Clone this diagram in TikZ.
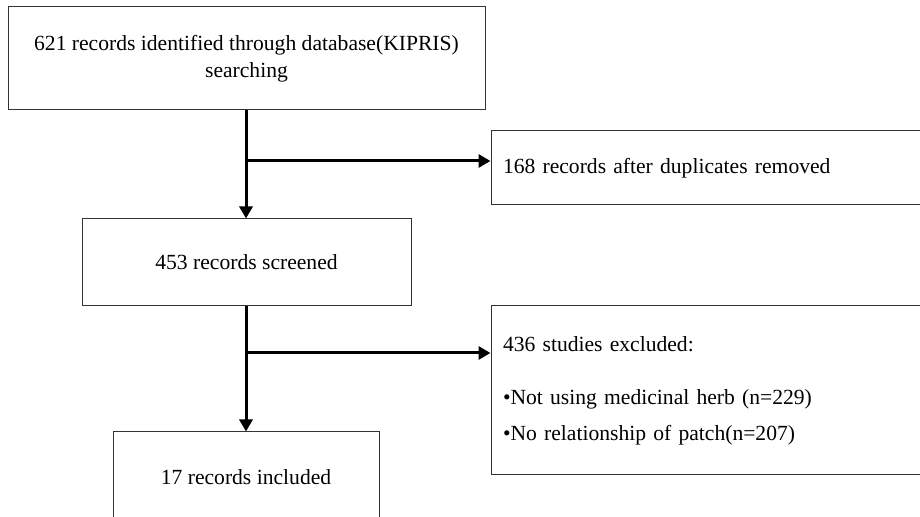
\documentclass[tikz,border=0pt]{standalone}
\usepackage{fontspec}
\setmainfont{Liberation Serif}
\usepackage{tikz}
\usetikzlibrary{arrows.meta}

\tikzset{
	box/.style={draw=black!80, line width=0.5pt, rectangle, inner sep=0pt, font=\fontsize{10.8}{13.5}\selectfont},
	sidebox/.style={box, align=left, inner xsep=6pt, text width=223pt, minimum width=235pt},
	flow/.style={line width=1.5pt, -{Triangle[length=6pt,width=6.5pt]}},
	trunk/.style={line width=1.5pt}
}

\begin{document}
\begin{tikzpicture}[x=0.5pt,y=-0.5pt]
			\useasboundingbox (0,0) rectangle (920,517);
			\clip (0,0) rectangle (920,517);
			\node[box, align=center, minimum width=238.5pt, minimum height=51.5pt] (ident) at (246.5,58.5) {621 records identified through database(KIPRIS)\\searching};
			\node[sidebox, minimum height=37pt] (dup) at (726,168) {168 records after duplicates removed};
			\node[box, minimum width=164.5pt, minimum height=43.5pt] (screen) at (246.5,262.5) {453 records screened};
			\node[sidebox, minimum height=84.5pt] (excl) at (726,390.5) {436 studies excluded:\\[13pt]\textbullet Not using medicinal herb (n=229)\\[4.5pt]\textbullet No relationship of patch(n=207)};
			\node[box, minimum width=133pt, minimum height=45pt] (incl) at (246,477) {17 records included};
			\coordinate (b1) at (246,161);
			\coordinate (b2) at (246,353);
			\draw[trunk] (ident.south -| b1) -- (b1);
			\draw[flow] (b1) -- (screen.north -| b1);
			\draw[flow] (b1) -- (b1 -| dup.west);
			\draw[trunk] (screen.south -| b2) -- (b2);
			\draw[flow] (b2) -- (incl.north -| b2);
			\draw[flow] (b2) -- (b2 -| excl.west);
		\end{tikzpicture}
\end{document}
